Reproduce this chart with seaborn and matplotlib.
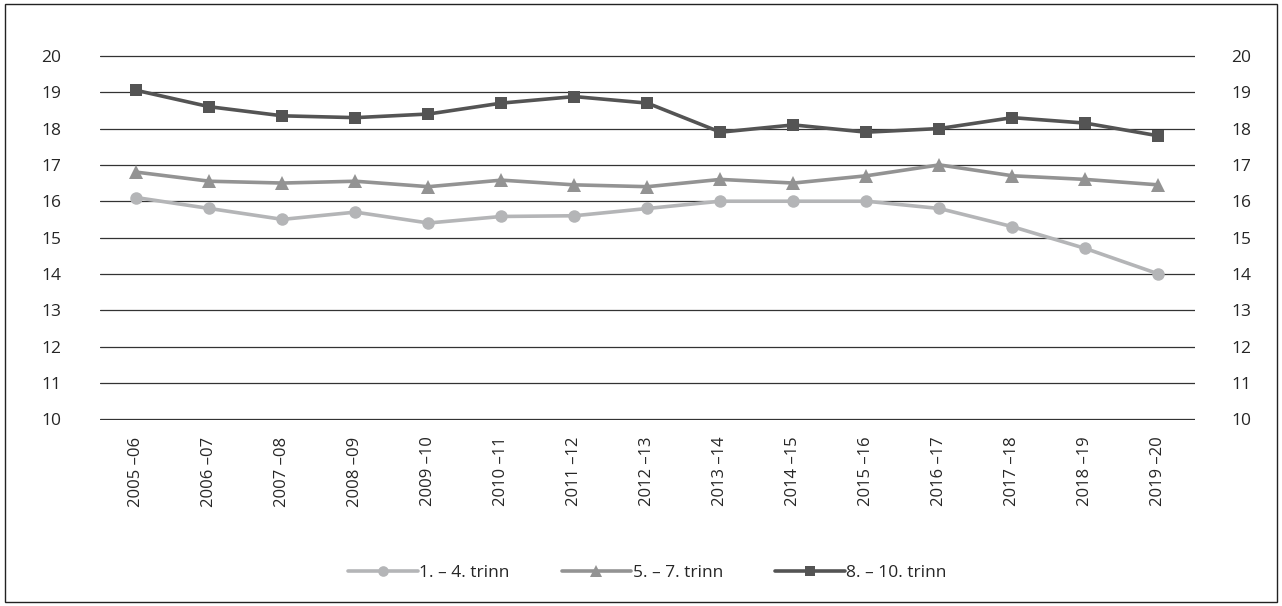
import matplotlib
matplotlib.use("Agg")
import matplotlib.pyplot as plt
import numpy as np
import pandas as pd
import seaborn as sns
from matplotlib.patches import Rectangle

# Data
years = ["2005 \u201306", "2006 \u201307", "2007 \u201308", "2008 \u201309", "2009 \u201310",
         "2010 \u201311", "2011 \u201312", "2012 \u201313", "2013 \u201314", "2014 \u201315",
         "2015 \u201316", "2016 \u201317", "2017 \u201318", "2018 \u201319", "2019 \u201320"]
trinn_1_4 = [16.1, 15.8, 15.5, 15.7, 15.4, 15.58, 15.6, 15.8, 16.0, 16.0, 16.0, 15.8, 15.3, 14.7, 14.0]
trinn_5_7 = [16.8, 16.55, 16.5, 16.55, 16.4, 16.58, 16.45, 16.4, 16.6, 16.5, 16.7, 17.0, 16.7, 16.6, 16.45]
trinn_8_10 = [19.05, 18.6, 18.35, 18.3, 18.4, 18.7, 18.88, 18.7, 17.9, 18.1, 17.9, 18.0, 18.3, 18.15, 17.8]

labels = ["1. \u2013 4. trinn", "5. \u2013 7. trinn", "8. \u2013 10. trinn"]
series = [trinn_1_4, trinn_5_7, trinn_8_10]
colors = ["#b4b5b7", "#939393", "#545454"]
markers = ["o", "^", "s"]

sns.set_style("white")
plt.rcParams['font.family'] = ['Open Sans', 'DejaVu Sans']

fig = plt.figure(figsize=(12.82, 6.06), dpi=100)
ax = fig.add_axes([0.078, 0.307, 0.854, 0.602])

pos = np.arange(len(years))
for lab, vals, c, m in zip(labels, series, colors, markers):
    df = pd.DataFrame({"pos": pos, "val": vals})
    sns.lineplot(data=df, x="pos", y="val", ax=ax, color=c, marker=m, lw=2.6,
                 markersize=9 if m != "^" else 9.5, markeredgewidth=0, label=lab)

ax.set_xlim(-0.5, len(years) - 0.5)
ax.set_ylim(9.98, 20.02)
ax.set_yticks(range(10, 21))
ax.yaxis.grid(True, color="#333333", lw=0.9)
ax.set_axisbelow(True)
for s in ax.spines.values():
    s.set_visible(False)
ax.set_xticks(pos)
ax.set_xticklabels(years, rotation=90, fontsize=12)
ax.tick_params(axis="x", length=0, pad=12)
ax.tick_params(axis="y", length=0, labelsize=12.5, pad=28)
ax.set_xlabel("")
ax.set_ylabel("")

ax2 = ax.twinx()
ax2.set_ylim(9.98, 20.02)
ax2.set_yticks(range(10, 21))
for s in ax2.spines.values():
    s.set_visible(False)
ax2.tick_params(axis="y", length=0, labelsize=12.5, pad=26)

ax.legend(loc="upper center", bbox_to_anchor=(0.5, -0.355), ncol=3, frameon=False,
          fontsize=12.5, handlelength=4.0, handletextpad=0.1, columnspacing=3.0,
          markerscale=0.85)

fig.patches.append(Rectangle((0.004, 0.006), 0.992, 0.988, transform=fig.transFigure,
                             fill=False, edgecolor="#222222", lw=1.0))

fig.savefig("out.png", dpi=100)
